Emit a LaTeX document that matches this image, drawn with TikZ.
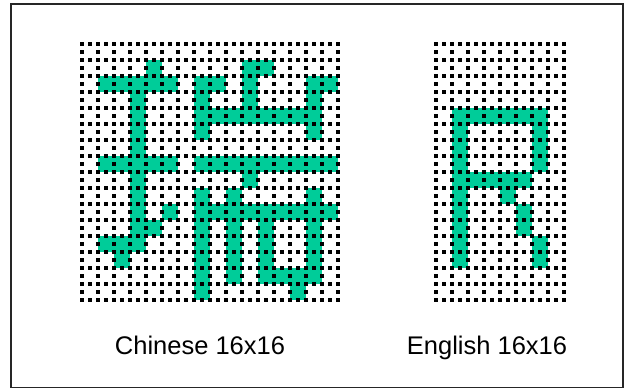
\documentclass[tikz,border=0pt]{standalone}
\usepackage{fontspec}
\setmainfont{Liberation Sans}
\usepackage{xcolor}
\definecolor{pixelverde}{RGB}{0,204,153}
\tikzset{
    pixel/.style={fill=pixelverde, draw=none},
    grade/.style={line width=3.4pt, dash pattern=on 3.4pt off 4.6pt, black},
    rotulo/.style={font=\fontsize{25.5}{30}\selectfont, inner sep=0pt, anchor=base},
    moldura/.style={draw=black!85, line width=1.6pt}
}

\begin{document}
\begin{tikzpicture}[x=1pt, y=-1pt]
    \useasboundingbox (0,0) rectangle (624,389);
    \draw[moldura] (11,4) rectangle (623.2,387.5);

    \foreach \r/\cols in {1/{4,10,11}, 2/{1,2,3,4,5,7,8,10,14,15}, 3/{3,7,10,14},
        4/{3,7,8,9,10,11,12,13,14}, 5/{3,7,14}, 6/{3},
        7/{1,2,3,4,5,7,8,9,10,11,12,13,14,15}, 8/{3,10}, 9/{3,7,9,14},
        10/{3,5,7,8,9,10,11,12,13,14,15}, 11/{3,4,7,9,11,14},
        12/{1,2,3,7,9,11,14}, 13/{2,7,9,11,14}, 14/{7,9,11,12,13,14}, 15/{7,13}}
        \foreach \c in \cols
            \fill[pixel] (82+16*\c, 44+16*\r) rectangle ++(16,16);

    \foreach \r/\cols in {4/{1,2,3,4,5,6}, 5/{1,6}, 6/{1,6}, 7/{1,6},
        8/{1,2,3,4,5}, 9/{1,4}, 10/{1,5}, 11/{1,5}, 12/{1,6}, 13/{1,6}}
        \foreach \c in \cols
            \fill[pixel] (436+16*\c, 44+16*\r) rectangle ++(16,16);

    \foreach \i in {0,...,16} {
        \draw[grade] (82+16*\i, 42.3) -- (82+16*\i, 301.7);
        \draw[grade] (80.3, 44+16*\i) -- (339.7, 44+16*\i);
        \draw[grade] (434.3, 44+16*\i) -- (565.7, 44+16*\i);
    }
    \foreach \i in {0,...,8}
        \draw[grade] (436+16*\i, 42.3) -- (436+16*\i, 301.7);

    \node[rotulo] (chines) at (200,354) {Chinese 16x16};
    \node[rotulo] (ingles) at (487,354) {English 16x16};
\end{tikzpicture}
\end{document}
